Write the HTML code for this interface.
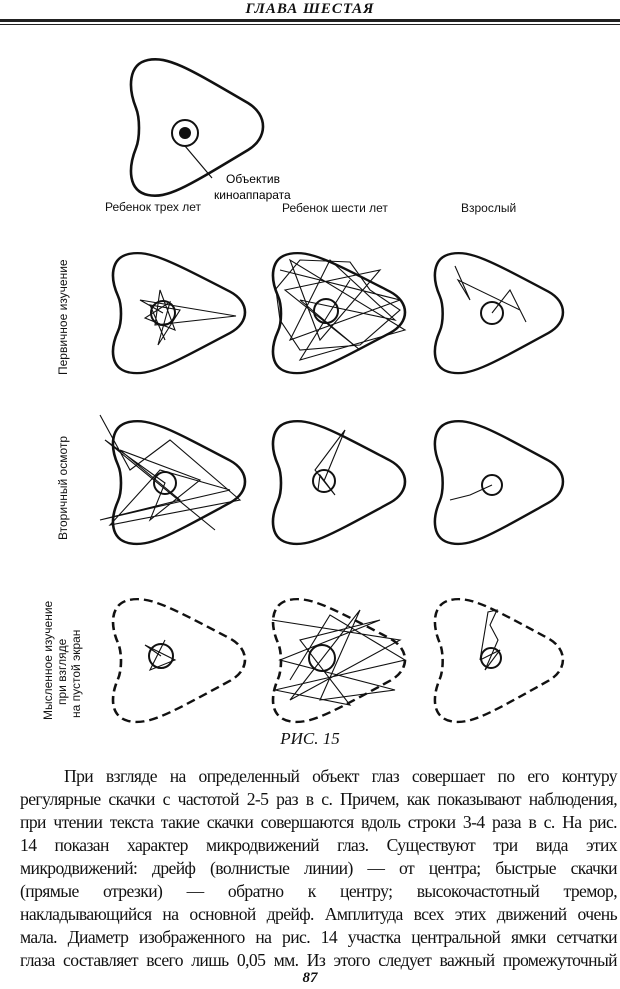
<!DOCTYPE html>
<html><head><meta charset="utf-8"><style>
html,body{margin:0;padding:0;background:#fff;}
body{width:620px;height:989px;position:relative;overflow:hidden;font-family:"Liberation Serif",serif;color:#111;}
.hdr{position:absolute;top:1px;left:0;width:620px;text-align:center;font-weight:bold;font-style:italic;font-size:15px;letter-spacing:1px;}
.r1{position:absolute;top:19px;left:0;width:620px;height:3px;background:#222;}
.r2{position:absolute;top:24px;left:0;width:620px;height:1px;background:#222;}
.cap{position:absolute;top:729px;left:0;width:620px;text-align:center;font-style:italic;font-size:17px;}
.txt{position:absolute;top:765px;left:20px;width:597px;font-size:17.6px;line-height:23px;}
.txt div{text-align:justify;text-align-last:justify;white-space:nowrap;letter-spacing:-0.6px;word-spacing:0;}
.txt div.in{padding-left:44px;}
.pn{position:absolute;top:970px;left:0;width:620px;text-align:center;font-weight:bold;font-style:italic;font-size:15px;}
svg{position:absolute;top:0;left:0;}
</style></head><body>
<div class="hdr">ГЛАВА ШЕСТАЯ</div>
<div class="r1"></div><div class="r2"></div>
<svg width="620" height="730" viewBox="0 0 620 730">
<defs>
<path id="sh" d="M20,2 C40,-2 60,10 120,45 C140,57 140,80 120,92 C60,128 40,141 20,137 C0,133 0,110 8,90 C12,80 12,60 8,50 C0,30 0,6 20,2 Z"/>
</defs>
<g fill="none" stroke="#111" stroke-width="2.6">
<use href="#sh" transform="translate(128,58)"/>
<use href="#sh" transform="translate(110,252) scale(1,0.88)"/>
<use href="#sh" transform="translate(270,252) scale(1,0.88)"/>
<use href="#sh" transform="translate(432,252) scale(0.97,0.88)"/>
<use href="#sh" transform="translate(110,420) scale(1,0.9)"/>
<use href="#sh" transform="translate(270,420) scale(1,0.9)"/>
<use href="#sh" transform="translate(432,420) scale(0.97,0.9)"/>
<g stroke-dasharray="9,5">
<use href="#sh" transform="translate(110,598) scale(1,0.9)"/>
<use href="#sh" transform="translate(270,598) scale(1,0.9)"/>
<use href="#sh" transform="translate(432,598) scale(0.97,0.9)"/>
</g>
</g>
<g fill="none" stroke="#111" stroke-width="2">
<circle cx="185" cy="133" r="13"/>
<circle cx="163" cy="313" r="12"/><circle cx="326" cy="311" r="12"/><circle cx="492" cy="313" r="11"/>
<circle cx="165" cy="483" r="11"/><circle cx="324" cy="481" r="11"/><circle cx="492" cy="485" r="10"/>
<circle cx="161" cy="656" r="12"/><circle cx="322" cy="658" r="13"/><circle cx="491" cy="658" r="10"/>
</g>
<circle cx="185" cy="133" r="6" fill="#111"/>
<line x1="185" y1="146" x2="212" y2="178" stroke="#111" stroke-width="1.2"/>
<text x="226" y="183" font-family="Liberation Sans,sans-serif" font-size="12">Объектив</text>
<text x="214" y="199" font-family="Liberation Sans,sans-serif" font-size="12">киноаппарата</text>
<g font-family="Liberation Sans,sans-serif" font-size="12" fill="#111">
<text x="105" y="211">Ребенок трех лет</text>
<text x="282" y="212">Ребенок шести лет</text>
<text x="461" y="212">Взрослый</text>
<text transform="translate(67,375) rotate(-90)">Первичное изучение</text>
<text transform="translate(67,540) rotate(-90)">Вторичный осмотр</text>
<text transform="translate(52,720) rotate(-90)">Мысленное изучение</text>
<text transform="translate(66,705) rotate(-90)">при взгляде</text>
<text transform="translate(80,718) rotate(-90)">на пустой экран</text>
</g>
<g fill="none" stroke="#111" stroke-width="1.1">
<polyline points="163,313 140,300 236,316 155,325 160,290 175,330 145,318 170,302 158,345 180,310 150,305 165,340"/>
<polyline points="280,270 400,300 290,340 330,260 395,320 300,300 360,350 285,290 380,270 320,340 290,260 405,330 300,360 350,280"/>
<polyline points="275,290 300,260 350,262 370,290 400,310 360,345 300,350 280,320 276,290"/>
<polyline points="455,266 470,300 458,280 520,310 526,322 510,290 492,313"/>
<polyline points="100,415 130,470 170,440 240,500 110,525 160,470 230,490 100,520 180,500 120,450 200,480 150,520 165,483 105,440 215,530"/>
<polyline points="324,481 345,430 315,470 335,495 320,475 318,490"/>
<polyline points="492,485 470,495 450,500"/>
<polyline points="161,656 145,645 175,660 150,670 165,640"/>
<polyline points="272,620 400,640 290,700 360,610 320,700 395,690 280,660 380,620 300,640 350,705 275,690 405,660 330,615 290,680"/>
<polyline points="480,660 500,650 485,670 498,640 490,625 497,610 488,612 480,660"/>
</g>
</svg>
<div class="cap">РИС. 15</div>
<div class="txt">
<div class="in">При взгляде на определенный объект глаз совершает по его контуру</div>
<div>регулярные скачки с частотой 2-5 раз в с. Причем, как показывают наблюдения,</div>
<div>при чтении текста такие скачки совершаются вдоль строки 3-4 раза в с. На рис.</div>
<div>14 показан характер микродвижений глаз. Существуют три вида этих</div>
<div>микродвижений: дрейф (волнистые линии) — от центра; быстрые скачки</div>
<div>(прямые отрезки) — обратно к центру; высокочастотный тремор,</div>
<div>накладывающийся на основной дрейф. Амплитуда всех этих движений очень</div>
<div>мала. Диаметр изображенного на рис. 14 участка центральной ямки сетчатки</div>
<div>глаза составляет всего лишь 0,05 мм. Из этого следует важный промежуточный</div>
</div>
<div class="pn">87</div>
</body></html>
